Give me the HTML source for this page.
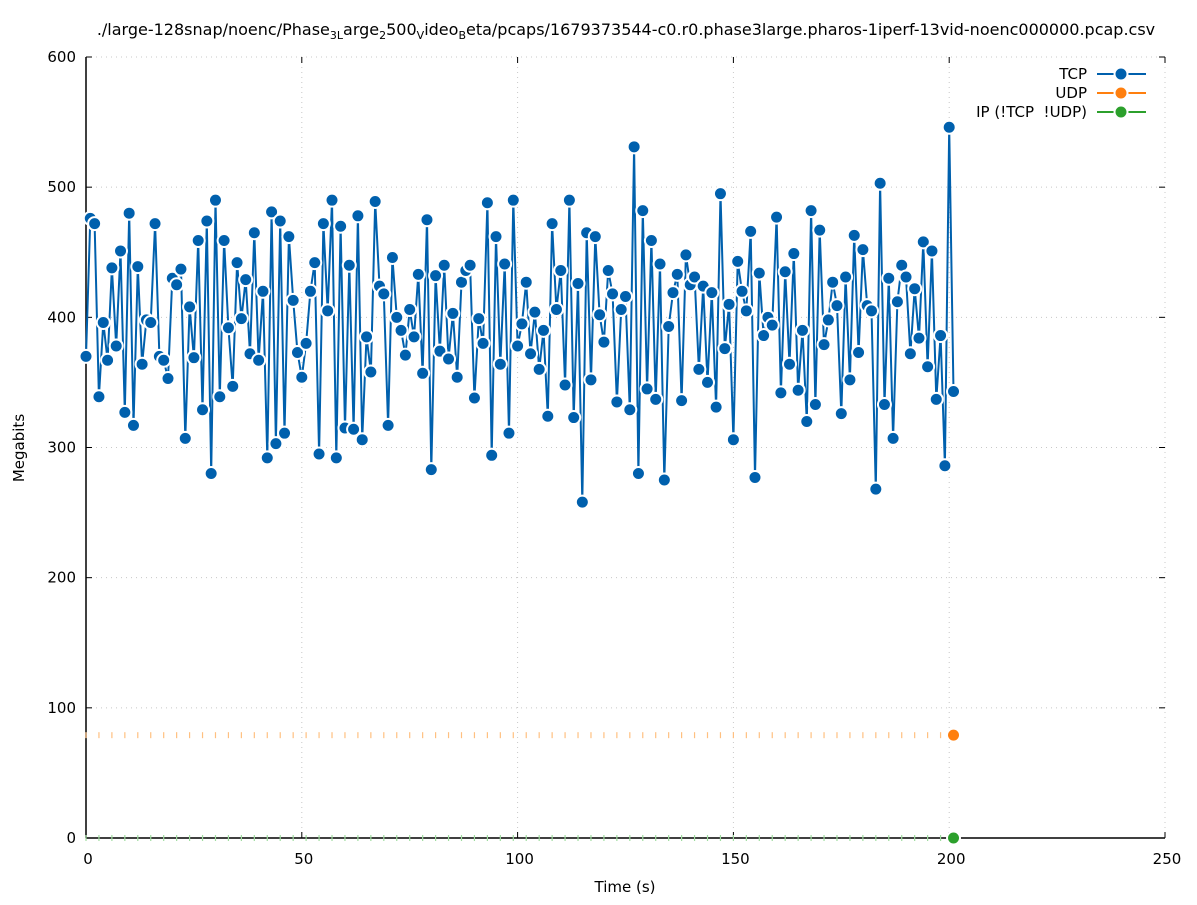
<!DOCTYPE html>
<html><head><meta charset="utf-8"><style>
body{margin:0;background:#fff;}
svg{font-family:"DejaVu Sans","Liberation Sans",sans-serif;}
</style></head><body>
<svg id="chart" width="1197" height="900" xmlns="http://www.w3.org/2000/svg">
<text x="626" y="35" text-anchor="middle" font-size="16">./large-128snap/noenc/Phase<tspan font-size="11" dy="4">3L</tspan><tspan dy="-4">arge</tspan><tspan font-size="11" dy="4">2</tspan><tspan dy="-4">500</tspan><tspan font-size="11" dy="4">V</tspan><tspan dy="-4">ideo</tspan><tspan font-size="11" dy="4">B</tspan><tspan dy="-4">eta/pcaps/1679373544-c0.r0.phase3large.pharos-1iperf-13vid-noenc000000.pcap.csv</tspan></text>
<g id="grid"></g><g id="axes"></g><g id="series"></g><g id="legend"></g>
<text x="625" y="892" text-anchor="middle" font-size="15">Time (s)</text>
<text transform="translate(24,448) rotate(-90)" text-anchor="middle" font-size="15">Megabits</text>
</svg>
<script>
const tcpValues=[370,476,472,339,396,367,438,378,451,327,480,317,439,364,398,396,472,370,367,353,430,425,437,307,408,369,459,329,474,280,490,339,459,392,347,442,399,429,372,465,367,420,292,481,303,474,311,462,413,373,354,380,420,442,295,472,405,490,292,470,315,440,314,478,306,385,358,489,424,418,317,446,400,390,371,406,385,433,357,475,283,432,374,440,368,403,354,427,436,440,338,399,380,488,294,462,364,441,311,490,378,395,427,372,404,360,390,324,472,406,436,348,490,323,426,258,465,352,462,402,381,436,418,335,406,416,329,531,280,482,345,459,337,441,275,393,419,433,336,448,425,431,360,424,350,419,331,495,376,410,306,443,420,405,466,277,434,386,400,394,477,342,435,364,449,344,390,320,482,333,467,379,398,427,409,326,431,352,463,373,452,409,405,268,503,333,430,307,412,440,431,372,422,384,458,362,451,337,386,286,546,343];
const udpValue=79;
const ipValue=0;
const xTicks=[0,50,100,150,200,250];
const yTicks=[0,100,200,300,400,500,600];
const NS="http://www.w3.org/2000/svg";
const X0=86,X1=1165,Y0=838,Y1=57;
const xs=t=>X0+(t/250)*(X1-X0);
const ys=v=>Y0-(v/600)*(Y0-Y1);
function mk(tag,attrs,parent){const e=document.createElementNS(NS,tag);for(const k in attrs)e.setAttribute(k,attrs[k]);parent.appendChild(e);return e;}
const grid=document.getElementById('grid'),axes=document.getElementById('axes'),series=document.getElementById('series'),legend=document.getElementById('legend');
xTicks.forEach(t=>{
 if(t>0){const g=mk('line',{x1:xs(t),x2:xs(t),y1:Y0,y2:Y1,stroke:'#c8c8c8','stroke-dasharray':'1 4'},grid);
 
 }
 const tk=mk('line',{x1:xs(t),x2:xs(t),y1:Y0,y2:Y0-6,stroke:'#000'},axes);
 
 
 const tk2=mk('line',{x1:xs(t),x2:xs(t),y1:Y1,y2:Y1+6,stroke:'#000'},axes);
 
 
 const l=mk('text',{x:xs(t)+2,y:864,'text-anchor':'middle','font-size':15},axes);l.textContent=t;
 
 
});
yTicks.forEach(v=>{
 if(v>0){const g=mk('line',{x1:X0,x2:X1,y1:ys(v),y2:ys(v),stroke:'#c8c8c8','stroke-dasharray':'1 4'},grid);
 
 }
 const tk=mk('line',{x1:X0,x2:X0+6,y1:ys(v),y2:ys(v),stroke:'#000'},axes);
 
 
 const tk2=mk('line',{x1:X1,x2:X1-6,y1:ys(v),y2:ys(v),stroke:'#000'},axes);
 
 
 const l=mk('text',{x:76,y:ys(v)+5,'text-anchor':'end','font-size':15},axes);l.textContent=v;
 
 
});
const yAxis=mk('line',{x1:X0,x2:X0,y1:Y1,y2:Y0,stroke:'#000','stroke-width':1.5},axes);


const xAxis=mk('line',{x1:X0,x2:X1,y1:Y0,y2:Y0,stroke:'#000','stroke-width':1.5},axes);


function flat(val,color,name,fill){
 const n=tcpValues.length;
 for(let t=0;t<n-1;t+=3){
  const e=mk('line',{x1:xs(t),x2:xs(t),y1:ys(val)-3,y2:ys(val)+3,stroke:color,'stroke-width':1.2},series);
  
  
 }
 const c=mk('circle',{cx:xs(n-1),cy:ys(val),r:6.5,fill:fill,stroke:'#fff','stroke-width':2},series);
 
 
}
flat(udpValue,'#ffc080','udp','#ff7f0e');
flat(ipValue,'#a0dca0','ip','#2ca02c');
const pts=tcpValues.map((v,i)=>xs(i).toFixed(1)+','+ys(v).toFixed(1)).join(' ');
const pl=mk('polyline',{points:pts,fill:'none',stroke:'#0060ad','stroke-width':2,'stroke-linejoin':'round'},series);


tcpValues.forEach((v,i)=>{
 const c=mk('circle',{cx:xs(i),cy:ys(v),r:6.5,fill:'#0060ad',stroke:'#fff','stroke-width':2},series);
 
 
});
[['TCP','#0060ad',74],['UDP','#ff7f0e',93],['IP (!TCP  !UDP)','#2ca02c',112]].forEach(([lab,col,y])=>{
 const t=mk('text',{x:1087,y:y+5,'text-anchor':'end','font-size':15},legend);t.textContent=lab;
 t.setAttribute('xml:space','preserve');
 t.style.whiteSpace='pre';
 
 
 const l=mk('line',{x1:1097,x2:1146,y1:y,y2:y,stroke:col,'stroke-width':2},legend);
 
 
 const c=mk('circle',{cx:1121,cy:y,r:6.5,fill:col,stroke:'#fff','stroke-width':2},legend);
 
 
});
</script>
</body></html>
